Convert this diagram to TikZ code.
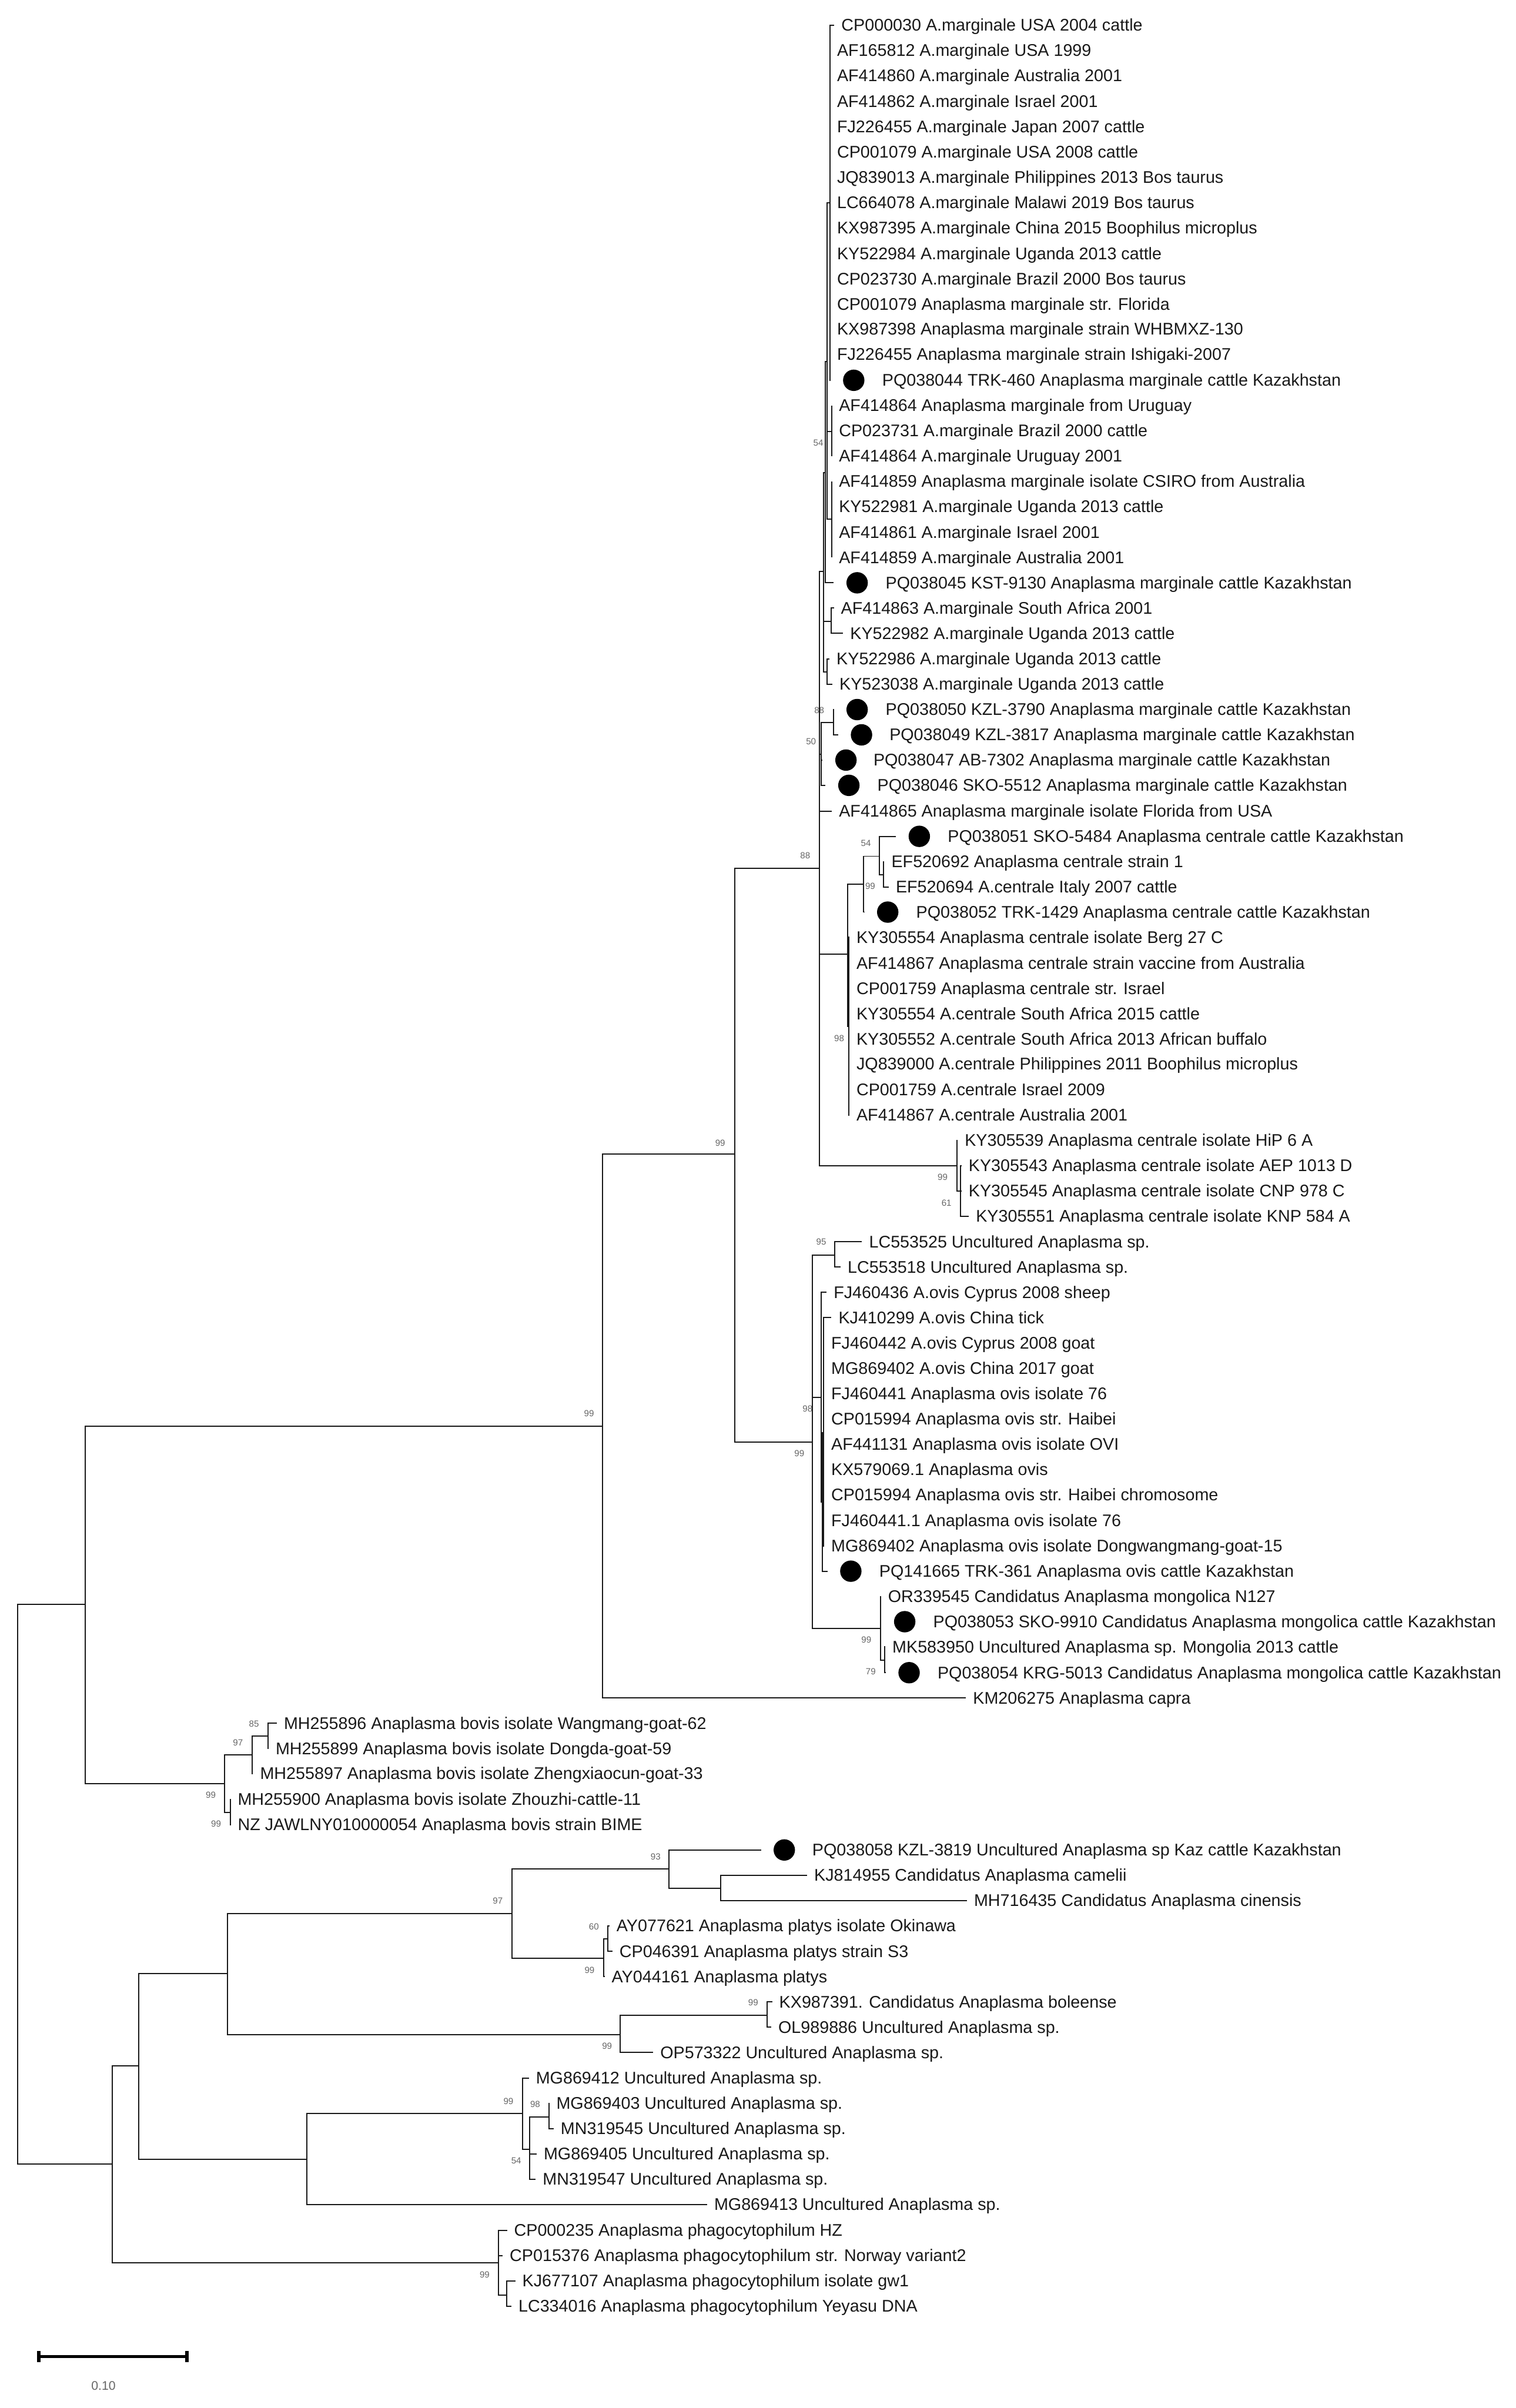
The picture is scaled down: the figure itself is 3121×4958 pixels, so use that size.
\documentclass[tikz,border=0pt]{standalone}
\usepackage{fontspec}
\setmainfont{Liberation Sans}
\usetikzlibrary{arrows.meta}
\begin{document}
\begin{tikzpicture}
[x=.01cm,y=-.01cm,
branch/.style={draw=black!90,line width=.68pt},
taxon/.style={anchor=west,inner xsep=.14cm,inner ysep=0pt,text height=8.2pt,text depth=1.4pt,text=black!90,font=\fontsize{9.88pt}{11pt}\selectfont},
markdot/.style={circle,fill=black,inner sep=0pt,minimum size=.44cm,outer sep=.26cm},
support/.style={inner sep=0pt,text=black!60,font=\fontsize{5.2pt}{6pt}\selectfont},
scalebar/.style={draw=black,line width=.05cm,{Bar[width=.23cm,line width=.07cm]}-{Bar[width=.23cm,line width=.07cm]}}]
\useasboundingbox (0,0) rectangle (3121,4958);
\coordinate (root) at (36,3880);
\coordinate (outer) at (175,3303);
\coordinate (core) at (1241,2936);
\coordinate (upper) at (1513,2376);
\coordinate (main) at (1687,1788);
\coordinate (margA) at (1696,1177);
\coordinate (margB) at (1700,973);
\coordinate (margC) at (1703,745);
\coordinate (margD) at (1709,418);
\coordinate (margE) at (1713,888);
\coordinate (margF) at (1713,1069);
\coordinate (margG) at (1711,1280);
\coordinate (margH) at (1703,1384);
\coordinate (kaz) at (1691,1553);
\coordinate (kazB) at (1716,1488);
\coordinate (cent) at (1745,1965);
\coordinate (centB) at (1778,1821);
\coordinate (centC) at (1811,1763);
\coordinate (centD) at (1819,1801);
\coordinate (centE) at (1748,2113);
\coordinate (hip) at (1970,2400);
\coordinate (hipB) at (1978,2452);
\coordinate (ovis) at (1673,2969);
\coordinate (unc) at (1719,2584);
\coordinate (ovisA) at (1691,2877);
\coordinate (ovisB) at (1693,3093);
\coordinate (ovisC) at (1696,3066);
\coordinate (ovisD) at (1693,2949);
\coordinate (mong) at (1813,3353);
\coordinate (mongB) at (1822,3418);
\coordinate (bovis) at (462,3672);
\coordinate (bovisA) at (519,3613);
\coordinate (bovisB) at (552,3575);
\coordinate (bovisC) at (474,3732);
\coordinate (lower) at (231,4456);
\coordinate (lowerA) at (286,4254);
\coordinate (platyA) at (469,4064);
\coordinate (platyB) at (1054,3940);
\coordinate (camel) at (1377,3848);
\coordinate (camelB) at (1484,3888);
\coordinate (platys) at (1243,4032);
\coordinate (platysB) at (1252,3992);
\coordinate (bole) at (1277,4189);
\coordinate (boleB) at (1580,4149);
\coordinate (uncA) at (632,4446);
\coordinate (uncB) at (1076,4352);
\coordinate (uncC) at (1091,4425);
\coordinate (uncD) at (1130,4359);
\coordinate (phago) at (1026,4659);
\coordinate (phagoB) at (1043,4725);
\node[taxon] (t0) at (1718,52) {CP000030 A.marginale USA 2004 cattle};
\node[taxon] (t1) at (1709,104) {AF165812 A.marginale USA 1999};
\node[taxon] (t2) at (1709,156) {AF414860 A.marginale Australia 2001};
\node[taxon] (t3) at (1709,209) {AF414862 A.marginale Israel 2001};
\node[taxon] (t4) at (1709,261) {FJ226455 A.marginale Japan 2007 cattle};
\node[taxon] (t5) at (1709,313) {CP001079 A.marginale USA 2008 cattle};
\node[taxon] (t6) at (1709,365) {JQ839013 A.marginale Philippines 2013 Bos taurus};
\node[taxon] (t7) at (1709,417) {LC664078 A.marginale Malawi 2019 Bos taurus};
\node[taxon] (t8) at (1709,469) {KX987395 A.marginale China 2015 Boophilus microplus};
\node[taxon] (t9) at (1709,522) {KY522984 A.marginale Uganda 2013 cattle};
\node[taxon] (t10) at (1709,574) {CP023730 A.marginale Brazil 2000 Bos taurus};
\node[taxon] (t11) at (1709,626) {CP001079 Anaplasma marginale str. Florida};
\node[taxon] (t12) at (1709,678) {KX987398 Anaplasma marginale strain WHBMXZ-130};
\node[taxon] (t13) at (1709,730) {FJ226455 Anaplasma marginale strain Ishigaki-2007};
\node[markdot] (d14) at (1758,783) {};
\node[taxon] (t14) at (1802,783) {PQ038044 TRK-460 Anaplasma marginale cattle Kazakhstan};
\node[taxon] (t15) at (1713,835) {AF414864 Anaplasma marginale from Uruguay};
\node[taxon] (t16) at (1713,887) {CP023731 A.marginale Brazil 2000 cattle};
\node[taxon] (t17) at (1713,939) {AF414864 A.marginale Uruguay 2001};
\node[taxon] (t18) at (1713,991) {AF414859 Anaplasma marginale isolate CSIRO from Australia};
\node[taxon] (t19) at (1713,1043) {KY522981 A.marginale Uganda 2013 cattle};
\node[taxon] (t20) at (1713,1096) {AF414861 A.marginale Israel 2001};
\node[taxon] (t21) at (1713,1148) {AF414859 A.marginale Australia 2001};
\node[markdot] (d22) at (1765,1200) {};
\node[taxon] (t22) at (1809,1200) {PQ038045 KST-9130 Anaplasma marginale cattle Kazakhstan};
\node[taxon] (t23) at (1717,1252) {AF414863 A.marginale South Africa 2001};
\node[taxon] (t24) at (1736,1304) {KY522982 A.marginale Uganda 2013 cattle};
\node[taxon] (t25) at (1708,1357) {KY522986 A.marginale Uganda 2013 cattle};
\node[taxon] (t26) at (1714,1409) {KY523038 A.marginale Uganda 2013 cattle};
\node[markdot] (d27) at (1765,1461) {};
\node[taxon] (t27) at (1809,1461) {PQ038050 KZL-3790 Anaplasma marginale cattle Kazakhstan};
\node[markdot] (d28) at (1774,1513) {};
\node[taxon] (t28) at (1817,1513) {PQ038049 KZL-3817 Anaplasma marginale cattle Kazakhstan};
\node[markdot] (d29) at (1742,1565) {};
\node[taxon] (t29) at (1784,1565) {PQ038047 AB-7302 Anaplasma marginale cattle Kazakhstan};
\node[markdot] (d30) at (1748,1617) {};
\node[taxon] (t30) at (1792,1617) {PQ038046 SKO-5512 Anaplasma marginale cattle Kazakhstan};
\node[taxon] (t31) at (1713,1670) {AF414865 Anaplasma marginale isolate Florida from USA};
\node[markdot] (d32) at (1893,1722) {};
\node[taxon] (t32) at (1937,1722) {PQ038051 SKO-5484 Anaplasma centrale cattle Kazakhstan};
\node[taxon] (t33) at (1821,1774) {EF520692 Anaplasma centrale strain 1};
\node[taxon] (t34) at (1830,1826) {EF520694 A.centrale Italy 2007 cattle};
\node[markdot] (d35) at (1828,1878) {};
\node[taxon] (t35) at (1872,1878) {PQ038052 TRK-1429 Anaplasma centrale cattle Kazakhstan};
\node[taxon] (t36) at (1749,1930) {KY305554 Anaplasma centrale isolate Berg 27 C};
\node[taxon] (t37) at (1749,1983) {AF414867 Anaplasma centrale strain vaccine from Australia};
\node[taxon] (t38) at (1749,2035) {CP001759 Anaplasma centrale str. Israel};
\node[taxon] (t39) at (1749,2087) {KY305554 A.centrale South Africa 2015 cattle};
\node[taxon] (t40) at (1749,2139) {KY305552 A.centrale South Africa 2013 African buffalo};
\node[taxon] (t41) at (1749,2191) {JQ839000 A.centrale Philippines 2011 Boophilus microplus};
\node[taxon] (t42) at (1749,2244) {CP001759 A.centrale Israel 2009};
\node[taxon] (t43) at (1749,2296) {AF414867 A.centrale Australia 2001};
\node[taxon] (t44) at (1972,2348) {KY305539 Anaplasma centrale isolate HiP 6 A};
\node[taxon] (t45) at (1980,2400) {KY305543 Anaplasma centrale isolate AEP 1013 D};
\node[taxon] (t46) at (1980,2452) {KY305545 Anaplasma centrale isolate CNP 978 C};
\node[taxon] (t47) at (1995,2504) {KY305551 Anaplasma centrale isolate KNP 584 A};
\node[taxon] (t48) at (1775,2557) {LC553525 Uncultured Anaplasma sp.};
\node[taxon] (t49) at (1731,2609) {LC553518 Uncultured Anaplasma sp.};
\node[taxon] (t50) at (1702,2661) {FJ460436 A.ovis Cyprus 2008 sheep};
\node[taxon] (t51) at (1712,2713) {KJ410299 A.ovis China tick};
\node[taxon] (t52) at (1697,2765) {FJ460442 A.ovis Cyprus 2008 goat};
\node[taxon] (t53) at (1697,2818) {MG869402 A.ovis China 2017 goat};
\node[taxon] (t54) at (1697,2870) {FJ460441 Anaplasma ovis isolate 76};
\node[taxon] (t55) at (1697,2922) {CP015994 Anaplasma ovis str. Haibei};
\node[taxon] (t56) at (1697,2974) {AF441131 Anaplasma ovis isolate OVI};
\node[taxon] (t57) at (1697,3026) {KX579069.1 Anaplasma ovis};
\node[taxon] (t58) at (1697,3078) {CP015994 Anaplasma ovis str. Haibei chromosome};
\node[taxon] (t59) at (1697,3131) {FJ460441.1 Anaplasma ovis isolate 76};
\node[taxon] (t60) at (1697,3183) {MG869402 Anaplasma ovis isolate Dongwangmang-goat-15};
\node[markdot] (d61) at (1752,3235) {};
\node[taxon] (t61) at (1796,3235) {PQ141665 TRK-361 Anaplasma ovis cattle Kazakhstan};
\node[taxon] (t62) at (1814,3287) {OR339545 Candidatus Anaplasma mongolica N127};
\node[markdot] (d63) at (1863,3339) {};
\node[taxon] (t63) at (1907,3339) {PQ038053 SKO-9910 Candidatus Anaplasma mongolica cattle Kazakhstan};
\node[taxon] (t64) at (1823,3391) {MK583950 Uncultured Anaplasma sp. Mongolia 2013 cattle};
\node[markdot] (d65) at (1872,3444) {};
\node[taxon] (t65) at (1916,3444) {PQ038054 KRG-5013 Candidatus Anaplasma mongolica cattle Kazakhstan};
\node[taxon] (t66) at (1989,3496) {KM206275 Anaplasma capra};
\node[taxon] (t67) at (570,3548) {MH255896 Anaplasma bovis isolate Wangmang-goat-62};
\node[taxon] (t68) at (553,3600) {MH255899 Anaplasma bovis isolate Dongda-goat-59};
\node[taxon] (t69) at (521,3652) {MH255897 Anaplasma bovis isolate Zhengxiaocun-goat-33};
\node[taxon] (t70) at (475,3705) {MH255900 Anaplasma bovis isolate Zhouzhi-cattle-11};
\node[taxon] (t71) at (475,3757) {NZ JAWLNY010000054 Anaplasma bovis strain BIME};
\node[markdot] (d72) at (1615,3809) {};
\node[taxon] (t72) at (1658,3809) {PQ038058 KZL-3819 Uncultured Anaplasma sp Kaz cattle Kazakhstan};
\node[taxon] (t73) at (1662,3861) {KJ814955 Candidatus Anaplasma camelii};
\node[taxon] (t74) at (1991,3913) {MH716435 Candidatus Anaplasma cinensis};
\node[taxon] (t75) at (1255,3965) {AY077621 Anaplasma platys isolate Okinawa};
\node[taxon] (t76) at (1261,4018) {CP046391 Anaplasma platys strain S3};
\node[taxon] (t77) at (1245,4070) {AY044161 Anaplasma platys};
\node[taxon] (t78) at (1590,4122) {KX987391. Candidatus Anaplasma boleense};
\node[taxon] (t79) at (1588,4174) {OL989886 Uncultured Anaplasma sp.};
\node[taxon] (t80) at (1345,4226) {OP573322 Uncultured Anaplasma sp.};
\node[taxon] (t81) at (1089,4279) {MG869412 Uncultured Anaplasma sp.};
\node[taxon] (t82) at (1131,4331) {MG869403 Uncultured Anaplasma sp.};
\node[taxon] (t83) at (1140,4383) {MN319545 Uncultured Anaplasma sp.};
\node[taxon] (t84) at (1105,4435) {MG869405 Uncultured Anaplasma sp.};
\node[taxon] (t85) at (1103,4487) {MN319547 Uncultured Anaplasma sp.};
\node[taxon] (t86) at (1456,4539) {MG869413 Uncultured Anaplasma sp.};
\node[taxon] (t87) at (1044,4592) {CP000235 Anaplasma phagocytophilum HZ};
\node[taxon] (t88) at (1035,4644) {CP015376 Anaplasma phagocytophilum str. Norway variant2};
\node[taxon] (t89) at (1061,4696) {KJ677107 Anaplasma phagocytophilum isolate gw1};
\node[taxon] (t90) at (1053,4748) {LC334016 Anaplasma phagocytophilum Yeyasu DNA};
\node[support] (s1) at (1685,912) {54};
\node[support] (s2) at (1687,1462) {88};
\node[support] (s3) at (1670,1527) {50};
\node[support] (s4) at (1658,1762) {88};
\node[support] (s5) at (1783,1736) {54};
\node[support] (s6) at (1792,1825) {99};
\node[support] (s7) at (1728,2138) {98};
\node[support] (s8) at (1941,2424) {99};
\node[support] (s9) at (1949,2477) {61};
\node[support] (s10) at (1691,2557) {95};
\node[support] (s11) at (1663,2900) {98};
\node[support] (s12) at (1646,2992) {99};
\node[support] (s13) at (1784,3376) {99};
\node[support] (s14) at (1793,3442) {79};
\node[support] (s15) at (1213,2910) {99};
\node[support] (s16) at (1483,2353) {99};
\node[support] (s17) at (523,3549) {85};
\node[support] (s18) at (490,3588) {97};
\node[support] (s19) at (434,3696) {99};
\node[support] (s20) at (445,3755) {99};
\node[support] (s21) at (1025,3914) {97};
\node[support] (s22) at (1350,3823) {93};
\node[support] (s23) at (1223,3967) {60};
\node[support] (s24) at (1214,4056) {99};
\node[support] (s25) at (1551,4123) {99};
\node[support] (s26) at (1250,4213) {99};
\node[support] (s27) at (1047,4326) {99};
\node[support] (s28) at (1102,4333) {98};
\node[support] (s29) at (1063,4449) {54};
\node[support] (s30) at (998,4684) {99};
\draw[branch] (root) |- (outer) (root) |- (lower);
\draw[branch] (outer) |- (core) (outer) |- (bovis);
\draw[branch] (core) |- (upper) (core) |- (t66);
\draw[branch] (upper) |- (main) (upper) |- (ovis);
\draw[branch] (main) |- (margA) (main) |- (kaz) (main) |- (t31) (main) |- (cent) (main) |- (hip);
\draw[branch] (margA) |- (margB) (margA) |- (margG) (margA) |- (margH);
\draw[branch] (margB) |- (margC) (margB) |- (d22);
\draw[branch] (margC) |- (margD) (margC) |- (margE) (margC) |- (margF);
\draw[branch] (margD) |- (t0) (margD) |- (t1) (margD) |- (t2) (margD) |- (t3) (margD) |- (t4) (margD) |- (t5) (margD) |- (t6) (margD) |- (t7);
\draw[branch] (margD) |- (t8) (margD) |- (t9) (margD) |- (t10) (margD) |- (t11) (margD) |- (t12) (margD) |- (t13) (margD) |- (d14);
\draw[branch] (margE) |- (t15) (margE) |- (t16) (margE) |- (t17);
\draw[branch] (margF) |- (t18) (margF) |- (t19) (margF) |- (t20) (margF) |- (t21);
\draw[branch] (margG) |- (t23) (margG) |- (t24);
\draw[branch] (margH) |- (t25) (margH) |- (t26);
\draw[branch] (kaz) |- (kazB) (kaz) |- (d29) (kaz) |- (d30);
\draw[branch] (kazB) |- (d27) (kazB) |- (d28);
\draw[branch] (cent) |- (centB) (cent) |- (centE);
\draw[branch] (centB) |- (centC) (centB) |- (d35);
\draw[branch] (centC) |- (d32) (centC) |- (centD);
\draw[branch] (centD) |- (t33) (centD) |- (t34);
\draw[branch] (centE) |- (t36) (centE) |- (t37) (centE) |- (t38) (centE) |- (t39) (centE) |- (t40) (centE) |- (t41) (centE) |- (t42) (centE) |- (t43);
\draw[branch] (hip) |- (t44) (hip) |- (hipB);
\draw[branch] (hipB) |- (t45) (hipB) |- (t46) (hipB) |- (t47);
\draw[branch] (ovis) |- (unc) (ovis) |- (ovisA) (ovis) |- (mong);
\draw[branch] (unc) |- (t48) (unc) |- (t49);
\draw[branch] (ovisA) |- (t50) (ovisA) |- (ovisB);
\draw[branch] (ovisB) |- (ovisC) (ovisB) |- (d61) (ovisB) -- (ovisD);
\draw[branch] (ovisC) |- (t51) (ovisC) |- (t52) (ovisC) |- (t53) (ovisC) |- (t54) (ovisC) |- (t55) (ovisC) |- (t56) (ovisC) |- (t57) (ovisC) |- (t58) (ovisC) |- (t59) (ovisC) |- (t60);
\draw[branch] (mong) |- (t62) (mong) |- (d63) (mong) |- (mongB);
\draw[branch] (mongB) |- (t64) (mongB) |- (d65);
\draw[branch] (bovis) |- (bovisA) (bovis) |- (bovisC);
\draw[branch] (bovisA) |- (bovisB) (bovisA) |- (t69);
\draw[branch] (bovisB) |- (t67) (bovisB) |- (t68);
\draw[branch] (bovisC) |- (t70) (bovisC) |- (t71);
\draw[branch] (lower) |- (lowerA) (lower) |- (phago);
\draw[branch] (lowerA) |- (platyA) (lowerA) |- (uncA);
\draw[branch] (platyA) |- (platyB) (platyA) |- (bole);
\draw[branch] (platyB) |- (camel) (platyB) |- (platys);
\draw[branch] (camel) |- (d72) (camel) |- (camelB);
\draw[branch] (camelB) |- (t73) (camelB) |- (t74);
\draw[branch] (platys) |- (platysB) (platys) |- (t77);
\draw[branch] (platysB) |- (t75) (platysB) |- (t76);
\draw[branch] (bole) |- (boleB) (bole) |- (t80);
\draw[branch] (boleB) |- (t78) (boleB) |- (t79);
\draw[branch] (uncA) |- (uncB) (uncA) |- (t86);
\draw[branch] (uncB) |- (t81) (uncB) |- (uncC);
\draw[branch] (uncC) |- (uncD) (uncC) |- (t84) (uncC) |- (t85);
\draw[branch] (uncD) |- (t82) (uncD) |- (t83);
\draw[branch] (phago) |- (t87) (phago) |- (t88) (phago) |- (phagoB);
\draw[branch] (phagoB) |- (t89) (phagoB) |- (t90);
\coordinate (bar0) at (76,4852);
\coordinate (bar1) at (388,4852);
\draw[scalebar] (bar0) -- (bar1);
\node[inner sep=0pt,text=black!60,font=\fontsize{7.3pt}{9pt}\selectfont] (scale) at (213,4912) {0.10};
\end{tikzpicture}
\end{document}
